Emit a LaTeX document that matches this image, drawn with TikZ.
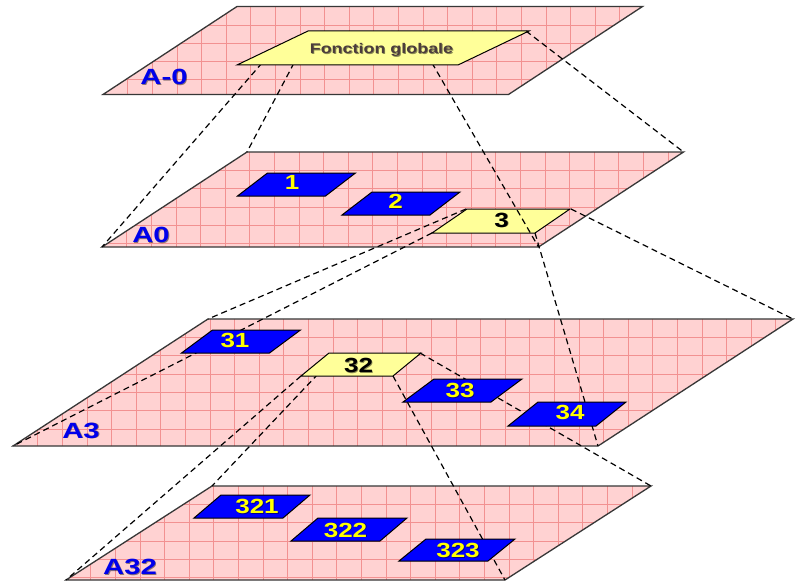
\documentclass[tikz,border=0pt]{standalone}
\usepackage{fontspec}
\setmainfont{Liberation Sans}
\usepackage{graphicx}
\definecolor{planepink}{RGB}{255,210,210}
\definecolor{gridred}{RGB}{242,145,145}
\definecolor{edgegray}{RGB}{55,55,55}
\definecolor{boxblue}{RGB}{0,0,255}
\definecolor{boxyellow}{RGB}{255,255,153}
\definecolor{txtyellow}{RGB}{255,255,0}
\definecolor{lblblue}{RGB}{0,0,235}
\definecolor{fgtext}{RGB}{75,60,60}

% plane: #1 name, #2 bottom-left x, #3 bottom y, #4 width, #5 slant offset, #6 height
\newcommand\myplane[6]{%
  \coordinate (#1-bl) at (#2,#3);
  \coordinate (#1-br) at ({#2+#4},#3);
  \coordinate (#1-tr) at ({#2+#4+#5},{#3-#6});
  \coordinate (#1-tl) at ({#2+#5},{#3-#6});
  \fill[planepink] (#1-bl) -- (#1-br) -- (#1-tr) -- (#1-tl) -- cycle;
  \begin{scope}
    \clip (#1-bl) -- (#1-br) -- (#1-tr) -- (#1-tl) -- cycle;
    \foreach \k in {1,...,33} {\draw[gridline] ({#2+\k*24.6},{#3-#6}) -- ++(0,#6);}
    \foreach \k in {1,...,7} {\draw[gridline] (#2,{#3-#6+\k*18.3}) -- ++({#4+#5},0);}
  \end{scope}
  \draw[planeedge] (#1-bl) -- (#1-br) -- (#1-tr) -- (#1-tl) -- cycle;
}
% box: #1 name, #2 box style, #3 bl x, #4 bottom y, #5 width, #6 offset, #7 height
\newcommand\mybox[7]{%
  \coordinate (#1-bl) at (#3,#4);
  \coordinate (#1-br) at ({#3+#5},#4);
  \coordinate (#1-tr) at ({#3+#5+#6},{#4-#7});
  \coordinate (#1-tl) at ({#3+#6},{#4-#7});
  \draw[#2] (#1-bl) -- (#1-br) -- (#1-tr) -- (#1-tl) -- cycle;
}
\newcommand\wide[2]{\scalebox{#1}[1]{#2}}
% label with soft drop shadow: #1 name, #2 style, #3 x, #4 y, #5 stretch, #6 text
\newcommand\mylabel[6]{%
  \node[#2,text=black,opacity=0.45] (#1-sh) at ({#3+0.9},{#4+0.9}) {\wide{#5}{#6}};
  \node[#2] (#1) at (#3,#4) {\wide{#5}{#6}};
}

\begin{document}
\begin{tikzpicture}[x=1pt,y=-1pt,
  gridline/.style={draw=gridred,line width=0.5pt},
  planeedge/.style={draw=edgegray,line width=1.3pt,line join=miter},
  bluebox/.style={fill=boxblue,draw=black,line width=1pt},
  yellowbox/.style={fill=boxyellow,draw=black,line width=1pt},
  proj/.style={draw=black,line width=1.2pt,dash pattern=on 6pt off 4pt},
  digit/.style={text=txtyellow,inner sep=0pt,font=\bfseries\fontsize{20.5}{20.5}\selectfont},
  digitdark/.style={text=black,inner sep=0pt,font=\bfseries\fontsize{20.5}{20.5}\selectfont},
  plabel/.style={text=lblblue,inner sep=0pt,font=\bfseries\fontsize{22}{22}\selectfont},
  fglabel/.style={text=fgtext,inner sep=0pt,anchor=base,font=\bfseries\fontsize{14}{14}\selectfont}]
\useasboundingbox (0,0) rectangle (800,583);
\fill[white] (0,0) rectangle (800,583);

% planes
\myplane{Pa}{103}{94.5}{405.5}{134}{88}
\myplane{Pb}{102}{247}{436.5}{145}{95}
\myplane{Pc}{13}{446}{585}{195}{127}
\myplane{Pd}{66}{580}{439}{146}{94}

% plane labels
\mylabel{la}{plabel}{164}{76.7}{1.33}{A-0}
\mylabel{lb}{plabel}{151}{235}{1.33}{A0}
\mylabel{lc}{plabel}{81}{430.5}{1.33}{A3}
\mylabel{ld}{plabel}{130}{567}{1.33}{A32}

% hidden ends of projection lines (under the boxes)
\coordinate (fg-a) at (262,63);
\coordinate (fg-b) at (294,63);
\coordinate (fg-c) at (432,63);
\coordinate (fg-tr) at (526,31);
\coordinate (b32-s) at (318,374);

% projection lines
\draw[proj] (fg-a) -- (Pb-bl);
\draw[proj] (fg-b) -- (Pb-tl);
\draw[proj] (fg-tr) -- (Pb-tr);

\coordinate (b3-tl) at (466,209);
\coordinate (b3-tr) at (571,209);
\coordinate (b3-bl) at (432,233);
\coordinate (b3-br) at (535,233);
\draw[proj] (b3-tl) -- (Pc-tl);
\draw[proj] (b3-bl) -- (Pc-bl);
\draw[proj] (b3-tr) -- (Pc-tr);
\draw[proj] (b3-br) -- (Pc-br);

\coordinate (b32-bl) at (301,376);
\coordinate (b32-tr) at (420,353);
\coordinate (b32-br) at (393,376);
\draw[proj] (b32-s) -- (Pd-tl);
\draw[proj] (b32-bl) -- (Pd-bl);
\draw[proj] (b32-tr) -- (Pd-tr);
\draw[proj] (b32-br) -- (Pd-br);

% level A0 boxes
\mybox{b1}{bluebox}{237.5}{196}{88}{30}{23}
\mylabel{t1}{digit}{292}{182}{1.27}{1}
\mybox{b2}{bluebox}{342}{215}{88}{30}{23}
\mylabel{t2}{digit}{395.5}{201.5}{1.27}{2}
\mybox{b3}{yellowbox}{432}{233}{103}{35}{24}
\mylabel{t3}{digitdark}{501.5}{220}{1.27}{3}

% level A3 boxes
\mybox{b31}{bluebox}{181.5}{353}{88}{31}{23}
\mylabel{t31}{digit}{235}{340}{1.27}{31}
\mybox{b32}{yellowbox}{301}{376}{92}{28}{23}
\mylabel{t32}{digitdark}{358.5}{365.5}{1.27}{32}
\mybox{b33}{bluebox}{403}{402}{88}{31}{23}
\mylabel{t33}{digit}{460}{390.5}{1.27}{33}
\mybox{b34}{bluebox}{508}{426}{88}{30}{24}
\mylabel{t34}{digit}{570}{412}{1.27}{34}

% level A32 boxes
\mybox{b321}{bluebox}{194}{518}{89}{27}{23}
\mylabel{t321}{digit}{257}{506.5}{1.27}{321}
\mybox{b322}{bluebox}{291}{541}{89}{27}{23}
\mylabel{t322}{digit}{345.5}{530}{1.27}{322}
\mybox{b323}{bluebox}{399}{561}{89}{27}{22}
\mylabel{t323}{digit}{458}{550.5}{1.27}{323}

% line over box 3, then global function box on top
\draw[proj] (fg-c) -- (Pb-br);
\mybox{fg}{yellowbox}{237}{65}{221}{71}{34}
\mylabel{tfg}{fglabel}{381.5}{53.3}{1.28}{Fonction globale}
\end{tikzpicture}
\end{document}
